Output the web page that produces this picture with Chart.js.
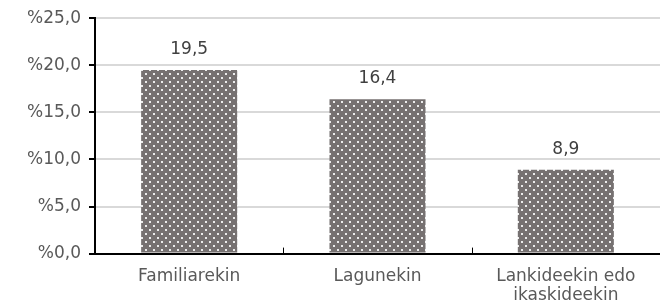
<!DOCTYPE html>
<html lang="eu">
<head>
<meta charset="UTF-8">
<title>Familiarekin, lagunekin, lankideekin</title>
<script src="https://cdn.jsdelivr.net/npm/chart.js"></script>
<style>
    html, body { margin: 0; padding: 0; background: #fff; }
    #wrap { width: 660px; height: 308px; }
</style>
</head>
<body>
<div id="wrap"><canvas id="grafika" width="660" height="308"></canvas></div>
<script>
    // datuak
    const kategoriak = ['Familiarekin', 'Lagunekin', ['Lankideekin edo', 'ikaskideekin']];
    const balioak = [19.5, 16.4, 8.9];
    const yMin = 0, yMax = 25, yPausoa = 5;

    const letra = '"DejaVu Sans", Verdana, sans-serif';

    // puntuz betetako eredua (Excel estiloa)
    function sortuEredua() {
        const c = document.createElement('canvas');
        c.width = 8; c.height = 8;
        const g = c.getContext('2d');
        g.fillStyle = '#767171';
        g.fillRect(0, 0, 8, 8);
        g.fillStyle = '#ececec';
        g.fillRect(1, 1, 2, 2);
        g.fillRect(5, 5, 2, 2);
        return g.createPattern(c, 'repeat');
    }

    const komaz = v => v.toFixed(1).replace('.', ',');

    // balioak barren gainean
    const etiketak = {
        id: 'etiketak',
        afterDatasetsDraw(chart) {
            const ctx = chart.ctx;
            const meta = chart.getDatasetMeta(0);
            ctx.save();
            ctx.font = '17px ' + letra;
            ctx.fillStyle = '#404040';
            ctx.textAlign = 'center';
            ctx.textBaseline = 'bottom';
            meta.data.forEach((bar, i) => {
                ctx.fillText(komaz(balioak[i]), bar.x, bar.y - 12);
            });
            ctx.restore();
        }
    };

    // x ardatzeko marka txikiak, kategorien artean, gorantz
    const xMarkak = {
        id: 'xMarkak',
        afterDraw(chart) {
            const x = chart.scales.x;
            const ctx = chart.ctx;
            const behea = chart.chartArea.bottom;
            ctx.save();
            ctx.strokeStyle = '#000';
            ctx.lineWidth = 1;
            for (let i = 0; i < kategoriak.length - 1; i++) {
                const px = Math.round((x.getPixelForValue(i) + x.getPixelForValue(i + 1)) / 2) + 0.5;
                ctx.beginPath();
                ctx.moveTo(px, behea);
                ctx.lineTo(px, behea - 6);
                ctx.stroke();
            }
            ctx.restore();
        }
    };

    new Chart(document.getElementById('grafika'), {
        type: 'bar',
        data: {
            labels: kategoriak,
            datasets: [{
                data: balioak,
                backgroundColor: sortuEredua(),
                borderWidth: 0,
                categoryPercentage: 0.51,
                barPercentage: 1
            }]
        },
        options: {
            responsive: false,
            animation: false,
            devicePixelRatio: 1,
            layout: { padding: { top: 11, right: 0, bottom: -11, left: 19 } },
            plugins: {
                legend: { display: false },
                tooltip: { enabled: false }
            },
            scales: {
                x: {
                    grid: { display: false, drawTicks: false },
                    border: { display: true, color: '#000', width: 2 },
                    ticks: {
                        color: '#595959',
                        font: { family: letra, size: 17, lineHeight: 1.1 },
                        padding: 14,
                        maxRotation: 0
                    }
                },
                y: {
                    min: yMin,
                    max: yMax,
                    grid: { color: '#d9d9d9', lineWidth: 2, tickColor: '#000', tickLength: 6 },
                    border: { color: '#000', width: 2 },
                    ticks: {
                        stepSize: yPausoa,
                        color: '#595959',
                        font: { family: letra, size: 17 },
                        padding: 8,
                        callback: v => '%' + komaz(v)
                    }
                }
            }
        },
        plugins: [etiketak, xMarkak]
    });
</script>
</body>
</html>
